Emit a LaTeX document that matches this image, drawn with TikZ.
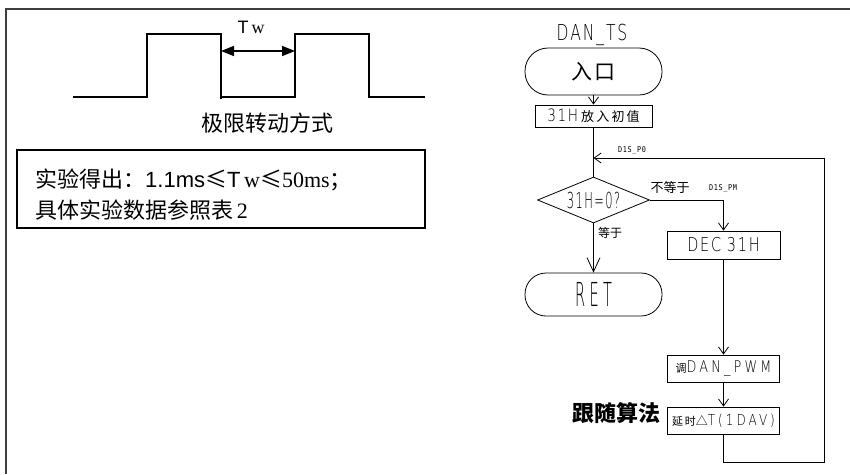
\documentclass[tikz,border=0pt]{standalone}
\usepackage{fontspec}
\setmainfont{Liberation Serif}
\setsansfont{Liberation Sans}
\newfontfamily\cjk{Noto Sans CJK SC}
\newfontfamily\cad[FakeStretch=0.8,LetterSpace=10]{DejaVu Sans ExtraLight}
\newfontfamily\cads[FakeStretch=0.8,LetterSpace=20]{DejaVu Sans ExtraLight}
\newfontfamily\cadm[LetterSpace=10]{DejaVu Sans Mono}
\usetikzlibrary{arrows.meta,shapes.geometric}
\newcommand\fs[1]{\fontsize{#1}{#1}\selectfont}
\begin{document}
\begin{tikzpicture}[x=1pt,y=-1pt,
  wave/.style={line width=1.6pt},
  frameline/.style={line width=1.5pt, draw=black!75},
  flow/.style={line width=0.8pt},
  fbox/.style={draw, line width=0.8pt, rectangle, inner sep=0pt},
  term/.style={draw, line width=0.8pt, rectangle, rounded corners=21pt, inner sep=0pt, minimum width=137pt},
  decision/.style={draw, line width=0.8pt, diamond, aspect=2.4, inner sep=0pt, minimum width=112pt, minimum height=46pt},
  barb/.style={-{Straight Barb[length=7pt,width=10pt]}},
  bigbarb/.style={-{Straight Barb[length=14pt,width=13pt]}},
  lbl/.style={inner sep=0pt},
]
\useasboundingbox (0,0) rectangle (850,474);
\draw[frameline] (6,474) -- (6,9) -- (850,9);

% waveform
\draw[wave] (73,97) -- (147,97) -- (147,34) -- (221,34) -- (221,99);
\draw[wave] (221,97) -- (295,97) -- (295,34) -- (369,34) -- (369,97) -- (425,97);
\coordinate (twA) at (221,51);
\coordinate (twB) at (295,51);
\draw[line width=1.6pt, {Triangle[length=13pt,width=10pt]}-{Triangle[length=13pt,width=10pt]}] (twA) -- (twB);
\node[lbl] (tw) at (251,27) {\fs{18}\sffamily T\,\rmfamily w};
\node[lbl, anchor=base] (cap) at (267,131) {\cjk\fs{22}极限转动方式};

% note box
\node[draw, line width=1.3pt, minimum width=408pt, minimum height=78pt, inner sep=0pt] (note) at (221,189) {};
\node[lbl, anchor=base west] (l1) at (35,187) {\fs{22}{\cjk 实验得出：}{\sffamily 1.1ms}{\cjk ≤}{\sffamily T}\,{\rmfamily w}{\cjk ≤}{\rmfamily 50ms}{\cjk ；}};
\node[lbl, anchor=base west] (l2) at (35,218) {\fs{22}{\cjk 具体实验数据参照表}\,{\rmfamily 2}};

% flowchart
\node[lbl] (title) at (592,35) {\scalebox{0.88}[1]{\cad\fs{22}DAN\_TS}};
\node[term, minimum height=47pt, rounded corners=23pt] (entry) at (593.5,71.5) {\cjk\fs{21}入\hspace{2pt}口};
\node[fbox, minimum width=117pt, minimum height=22pt] (init) at (593.5,116) {\cad\fs{17}31H\hspace{3pt}\cjk\fs{13}放\,入\,初\,值};
\coordinate (merge) at (593.5,158);
\node[decision] (dec) at (593.5,200) {\scalebox{0.65}[1]{\cad\fs{22}31H=0?}};
\node[term, minimum height=43pt] (ret) at (593.5,294.5) {\scalebox{0.55}[1]{\cad\fs{33}R\hspace{8pt}E\hspace{8pt}T}};
\node[fbox, minimum width=113pt, minimum height=28pt] (decb) at (723.5,245) {\scalebox{0.95}[1]{\cad\fs{19}DEC\hspace{6pt}31H}};
\node[fbox, minimum width=112pt, minimum height=27pt] (pwm) at (723.5,368.5) {\cjk\fs{11}调\cads\fs{16}DAN\_PWM};
\node[fbox, minimum width=112pt, minimum height=27pt] (dly) at (723.5,420.5) {\cjk\fs{11}延\,时\fs{12}△\cads\fs{15}T(1DAV)};
\coordinate (c2) at (824,462);
\coordinate (c3) at (824,158);

\draw[flow,barb] (entry) -- (init);
\draw[flow] (init) -- (merge) -- (dec.north);
\draw[flow,bigbarb] (dec.south) -- (ret.north);
\draw[flow,barb] (dec.east) -| (decb.north);
\draw[flow,barb] (decb) -- (pwm);
\draw[flow,barb] (pwm) -- (dly);
\draw[flow,barb] (dly.south) |- (c2) -- (c3) -- (merge);

\node[lbl] (p0) at (632,150.5) {\scalebox{0.85}[1]{\cadm\fs{8}D1S\_P0}};
\node[lbl] (ne) at (670,188) {\cjk\fs{13}不等于};
\node[lbl] (pm) at (723,188.5) {\scalebox{0.85}[1]{\cadm\fs{8}D1S\_PM}};
\node[lbl] (eq) at (610,233) {\cjk\fs{12}等于};
\node[lbl] (alg) at (616,413) {\cjk\bfseries\fs{22}跟随算法};
\end{tikzpicture}
\end{document}
